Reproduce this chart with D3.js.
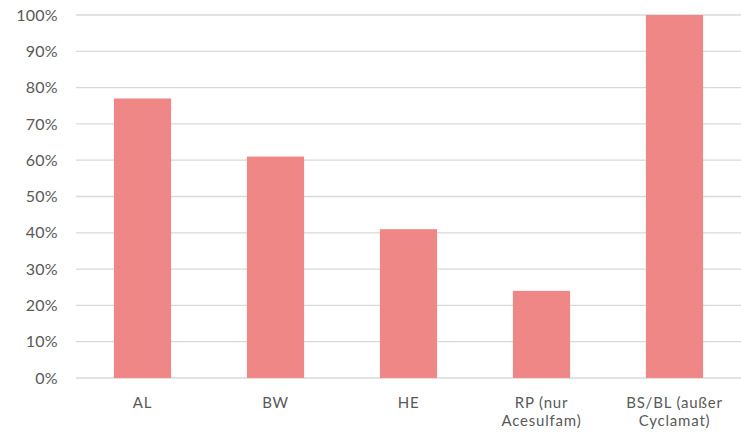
<!DOCTYPE html>
<html>
<head>
<meta charset="utf-8">
<script src="https://cdn.jsdelivr.net/npm/d3@7"></script>
<style>
  html, body { margin: 0; padding: 0; background: #fff; }
  svg text { font-family: Lato, "Open Sans", sans-serif; fill: #595959; }
</style>
</head>
<body>
<svg id="chart" width="741" height="436"></svg>
<script>
// Share of samples per region (percent)
const categories = ["AL", "BW", "HE", "RP (nur\nAcesulfam)", "BS/BL (außer\nCyclamat)"];
const values = [77, 61, 41, 24, 100];
const yTicks = [0, 10, 20, 30, 40, 50, 60, 70, 80, 90, 100];

const svg = d3.select("#chart");
const margin = { left: 76, right: 0, top: 15, bottom: 58 };
const width = 741, height = 436;

const x = d3.scaleBand()
  .domain(categories)
  .range([margin.left, width - margin.right])
  .paddingInner(0.57)
  .paddingOuter(0.285);

const y = d3.scaleLinear()
  .domain([0, 100])
  .range([height - margin.bottom, margin.top]);

// horizontal gridlines
svg.append("g")
  .selectAll("line")
  .data(yTicks)
  .join("line")
  .attr("x1", margin.left)
  .attr("x2", width - margin.right)
  .attr("y1", d => y(d))
  .attr("y2", d => y(d))
  .attr("stroke", "#d9d9d9")
  .attr("stroke-width", 1.3);

// y axis labels
const yAxis = d3.axisLeft(y).tickValues(yTicks).tickFormat(d => d + "%").tickSize(0).tickPadding(18);
svg.append("g")
  .attr("transform", `translate(${margin.left},0)`)
  .call(yAxis)
  .call(g => g.select(".domain").remove())
  .call(g => g.selectAll("text")
    .attr("font-size", 16)
    .attr("letter-spacing", 0.3)
    .attr("fill", "#595959")
    .attr("font-family", "Lato, sans-serif"));

// bars
svg.append("g")
  .selectAll("rect")
  .data(values)
  .join("rect")
  .attr("x", (d, i) => x(categories[i]))
  .attr("width", x.bandwidth())
  .attr("y", d => y(d))
  .attr("height", d => y(0) - y(d))
  .attr("fill", "#EF8787");

// category labels (two-line where needed)
const xAxis = d3.axisBottom(x).tickSize(0).tickPadding(0).tickFormat("");
const xg = svg.append("g")
  .attr("transform", `translate(0,${y(0)})`)
  .call(xAxis)
  .call(g => g.select(".domain").remove());

xg.selectAll(".tick").each(function (d) {
  const t = d3.select(this).append("text")
    .attr("text-anchor", "middle")
    .attr("font-size", 15)
    .attr("letter-spacing", 0.8)
    .attr("fill", "#595959");
  d.split("\n").forEach((line, i) => {
    t.append("tspan").attr("x", 0).attr("y", 30 + i * 18).text(line);
  });
});
</script>
</body>
</html>
